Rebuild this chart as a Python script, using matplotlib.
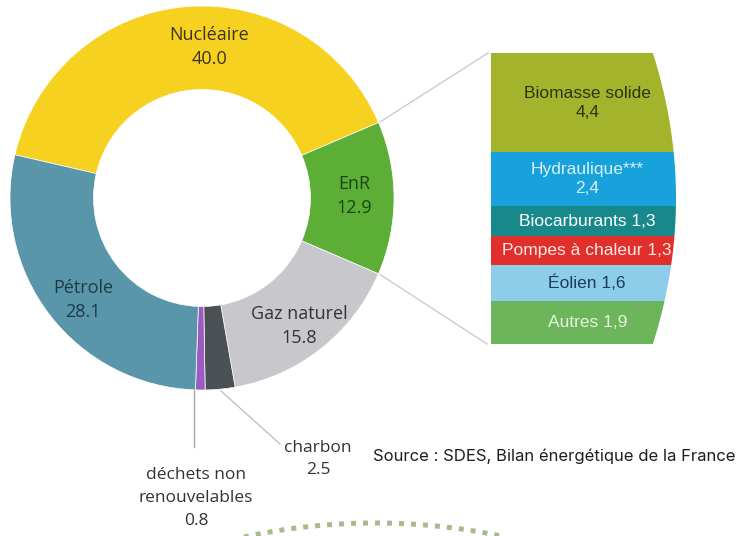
import numpy as np
import matplotlib.pyplot as plt
from matplotlib.patches import PathPatch
from matplotlib.path import Path

W, H = 743, 536

# consommation d'énergie primaire, parts en %
sources = ["Nucléaire", "EnR", "Gaz naturel", "charbon", "déchets non\nrenouvelables", "Pétrole"]
shares = [40.0, 12.9, 15.8, 2.5, 0.8, 28.1]
share_labels = ["40.0", "12.9", "15.8", "2.5", "0.8", "28.1"]
colors = ["#F6D11F", "#5CAE36", "#C8C8CC", "#4A5054", "#9B5BC2", "#5A96A9"]
text_colors = ["#3a3520", "#1d4512", "#333333", "#333333", "#333333", "#1f3a47"]

# détail des EnR
enr_names = ["Biomasse solide", "Hydraulique***", "Biocarburants", "Pompes à chaleur", "Éolien", "Autres"]
enr_values = [4.4, 2.4, 1.3, 1.3, 1.6, 1.9]
enr_colors = ["#A3B42C", "#18A2DC", "#17898A", "#E1302B", "#8ECDE9", "#6DB55B"]
enr_text = ["#2b3510", "#d8f0fb", "#ffffff", "#fde8e6", "#1d3b5c", "#e6f3e0"]

fig = plt.figure(figsize=(W / 100, H / 100), dpi=100)
ax = fig.add_axes([0, 0, 1, 1])

# anneau (coordonnées en pixels, y vers le haut)
cx, cy, R = 202, H - 198, 192
wedges, _ = ax.pie(shares, colors=colors, startangle=167, counterclock=False,
                   center=(cx, cy), radius=R,
                   wedgeprops=dict(width=R * 0.435, edgecolor="white", linewidth=0.5))
ax.set_xlim(0, W)
ax.set_ylim(0, H)
ax.set_aspect("equal")
ax.axis("off")

font_main = ["Open Sans", "DejaVu Sans"]
inner_pos = {0: (209, 47), 1: (354, 196), 2: (299, 326), 5: (83, 300)}
for i, (x, y) in inner_pos.items():
    ax.text(x, H - y, f"{sources[i]}\n{share_labels[i]}", ha="center", va="center",
            fontsize=13, color=text_colors[i], family=font_main, linespacing=1.45)

# étiquettes extérieures
ax.plot([221, 280], [H - 391, H - 444], color="#b8bcc4", lw=0.9)
ax.text(318, H - 459, f"{sources[3]}\n{share_labels[3]}", ha="center", va="center",
        fontsize=12.5, color="#333333", family=font_main, linespacing=1.45)
ax.plot([194, 194], [H - 390, H - 447], color="#a6a6ae", lw=1.0)
ax.text(196, H - 498, f"{sources[4]}\n{share_labels[4]}", ha="center", va="center",
        fontsize=12.5, color="#333333", family=font_main, linespacing=1.6)

# barre empilée des EnR
bx0, bx1, by0, by1 = 491, 676, 53, 344
bax = fig.add_axes([bx0 / W, 1 - by1 / H, (bx1 - bx0) / W, (by1 - by0) / H])
bottoms = np.concatenate([[0], np.cumsum(enr_values)[:-1]])
bars = bax.bar(np.full(len(enr_values), 0.5), enr_values, bottom=bottoms, width=1.0,
               color=enr_colors, linewidth=0)
bax.set_xlim(0, 1)
bax.set_ylim(sum(enr_values), 0)
bax.axis("off")

t = np.linspace(0, 1, 80)
xr = 0.875 + 0.125 * (1 - (2 * t - 1) ** 2)
verts = [(0, 0)] + list(zip(xr, t)) + [(0, 1), (0, 0)]
clip = PathPatch(Path(verts), transform=bax.transAxes, facecolor="none", edgecolor="none")
for b in bars:
    b.set_clip_path(clip)

for name, v, b0, tc in zip(enr_names, enr_values, bottoms, enr_text):
    val = f"{v:.1f}".replace(".", ",")
    label = f"{name}\n{val}" if v > 2 else f"{name} {val}"
    bax.text(0.52, b0 + v / 2, label, ha="center", va="center", fontsize=12.5,
             color=tc, family=["Liberation Sans", "DejaVu Sans"], linespacing=1.35,
             clip_on=False)

# traits de liaison vers la barre
enr_w = wedges[1]
for ang, (ex, ey) in [(enr_w.theta2, (488, 53)), (enr_w.theta1, (487, 344))]:
    a = np.deg2rad(ang)
    sx, sy = cx + R * 1.01 * np.cos(a), cy + R * 1.01 * np.sin(a)
    ax.plot([sx, ex], [sy, H - ey], color="#c9ccd8", lw=1.0)

# source
ax.text(373, H - 456, "Source : SDES, Bilan énergétique de la France", ha="left", va="center",
        fontsize=12, color="#1e1e1e", family=["Inter", "DejaVu Sans"])

# arc pointillé (graphique suivant, coupé)
ang = np.linspace(np.deg2rad(104.5), np.deg2rad(75.5), 60)
ar = 620
ax.plot(375 + ar * np.cos(ang), (H - 523) - ar + ar * np.sin(ang), color="#a9bb8c",
        lw=3.6, linestyle=(0, (1.0, 1.4)), solid_capstyle="butt", dash_capstyle="butt")

fig.savefig("out.png", dpi=100)
